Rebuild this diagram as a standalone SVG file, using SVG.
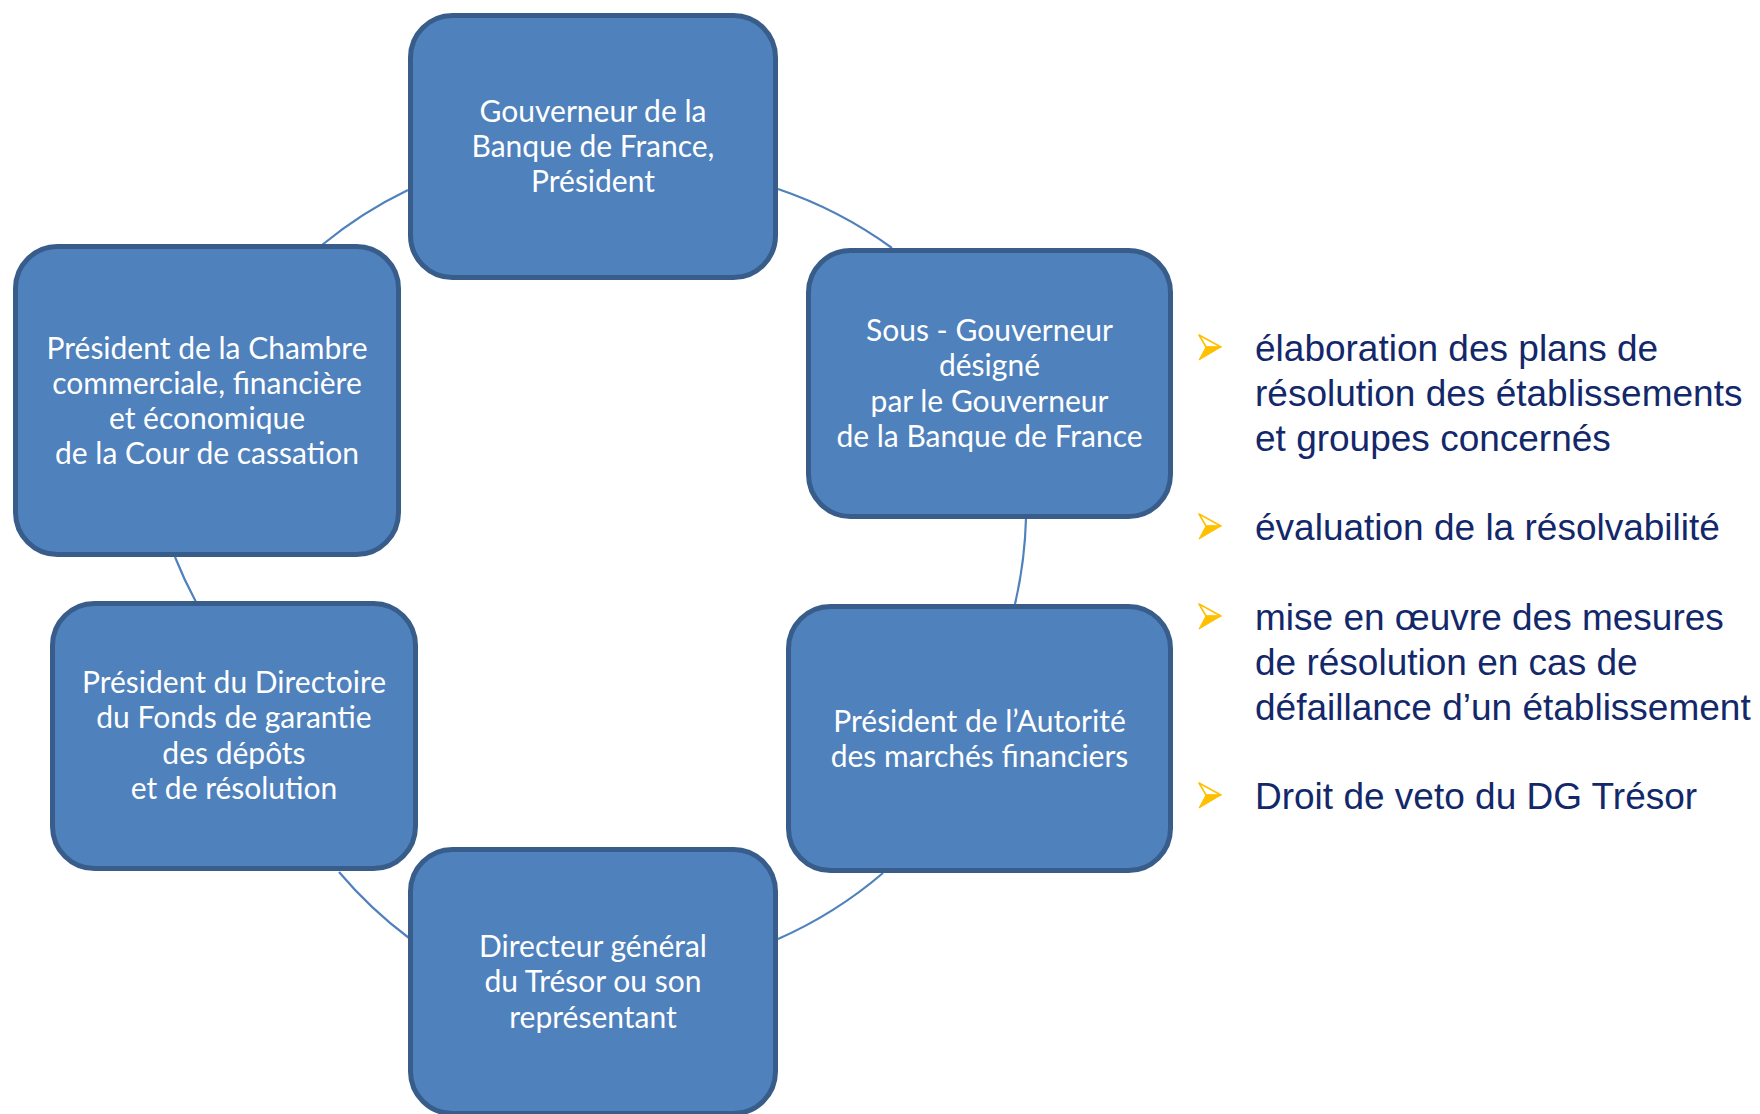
<svg xmlns="http://www.w3.org/2000/svg" width="1760" height="1114" viewBox="0 0 1760 1114">
<style>
.box{fill:#4F81BD;stroke:#385D8A;stroke-width:5}
.lbl{font-family:Lato,"Open Sans","Liberation Sans",sans-serif;font-size:30px;fill:#FFFFFF;text-anchor:middle}
.con{fill:none;stroke:#4F81BD;stroke-width:2.2}
.bul{font-family:"Liberation Sans",Arial,sans-serif;font-size:37px;fill:#13286A}
.arU{fill:#FFFFFF;stroke:#FFC000;stroke-width:1.6;stroke-linejoin:round}
.arL{fill:#FFC000;stroke:#FFC000;stroke-width:1;stroke-linejoin:round}
</style>
<defs>
<g id="bullet">
<polygon class="arU" points="-11,-12 11,0 -4,0"/>
<polygon class="arL" points="-4,0 11,0 -11,13"/>
</g>
</defs>
<rect width="1760" height="1114" fill="#FFFFFF"/>
<g id="connectors">
<path class="con" d="M322,245 A425,425 0 0 1 408,190"/>
<path class="con" d="M778,189 A425,425 0 0 1 892,248"/>
<path class="con" d="M1026,518 A425,425 0 0 1 1015,604"/>
<path class="con" d="M883,873 A425,425 0 0 1 778,939"/>
<path class="con" d="M409,938 A425,425 0 0 1 339,872"/>
<path class="con" d="M196,602 A425,425 0 0 1 175,557"/>
</g>
<g id="node-gouverneur">
<rect class="box" x="410.5" y="15.5" width="365" height="262" rx="42"/>
<text class="lbl" x="593" y="122">Gouverneur de la</text>
<text class="lbl" x="593" y="157">Banque de France,</text>
<text class="lbl" x="593" y="192">Président</text>
</g>
<g id="node-sous-gouverneur">
<rect class="box" x="808.5" y="250.5" width="362" height="266" rx="42"/>
<text class="lbl" x="989.5" y="341">Sous - Gouverneur</text>
<text class="lbl" x="989.5" y="376">désigné</text>
<text class="lbl" x="989.5" y="412">par le Gouverneur</text>
<text class="lbl" x="989.5" y="447">de la Banque de France</text>
</g>
<g id="node-amf">
<rect class="box" x="788.5" y="606.5" width="382" height="264" rx="42"/>
<text class="lbl" x="979.5" y="732">Président de l’Autorité</text>
<text class="lbl" x="979.5" y="767">des marchés financiers</text>
</g>
<g id="node-tresor">
<rect class="box" x="410.5" y="849.5" width="365" height="264" rx="42"/>
<text class="lbl" x="593" y="957">Directeur général</text>
<text class="lbl" x="593" y="992">du Trésor ou son</text>
<text class="lbl" x="593" y="1028">représentant</text>
</g>
<g id="node-fgdr">
<rect class="box" x="52.5" y="603.5" width="363" height="265" rx="42"/>
<text class="lbl" x="234" y="693">Président du Directoire</text>
<text class="lbl" x="234" y="728">du Fonds de garantie</text>
<text class="lbl" x="234" y="764">des dépôts</text>
<text class="lbl" x="234" y="799">et de résolution</text>
</g>
<g id="node-cour-cassation">
<rect class="box" x="15.5" y="246.5" width="383" height="308" rx="42"/>
<text class="lbl" x="207" y="359">Président de la Chambre</text>
<text class="lbl" x="207" y="394">commerciale, financière</text>
<text class="lbl" x="207" y="429">et économique</text>
<text class="lbl" x="207" y="464">de la Cour de cassation</text>
</g>
<g id="missions">
<use href="#bullet" x="1210" y="347"/>
<text class="bul" x="1255" y="361">élaboration des plans de</text>
<text class="bul" x="1255" y="406">résolution des établissements</text>
<text class="bul" x="1255" y="451">et groupes concernés</text>
<use href="#bullet" x="1210" y="526"/>
<text class="bul" x="1255" y="540">évaluation de la résolvabilité</text>
<use href="#bullet" x="1210" y="616"/>
<text class="bul" x="1255" y="630">mise en œuvre des mesures</text>
<text class="bul" x="1255" y="675">de résolution en cas de</text>
<text class="bul" x="1255" y="720">défaillance d’un établissement</text>
<use href="#bullet" x="1210" y="795"/>
<text class="bul" x="1255" y="809">Droit de veto du DG Trésor</text>
</g>
</svg>
